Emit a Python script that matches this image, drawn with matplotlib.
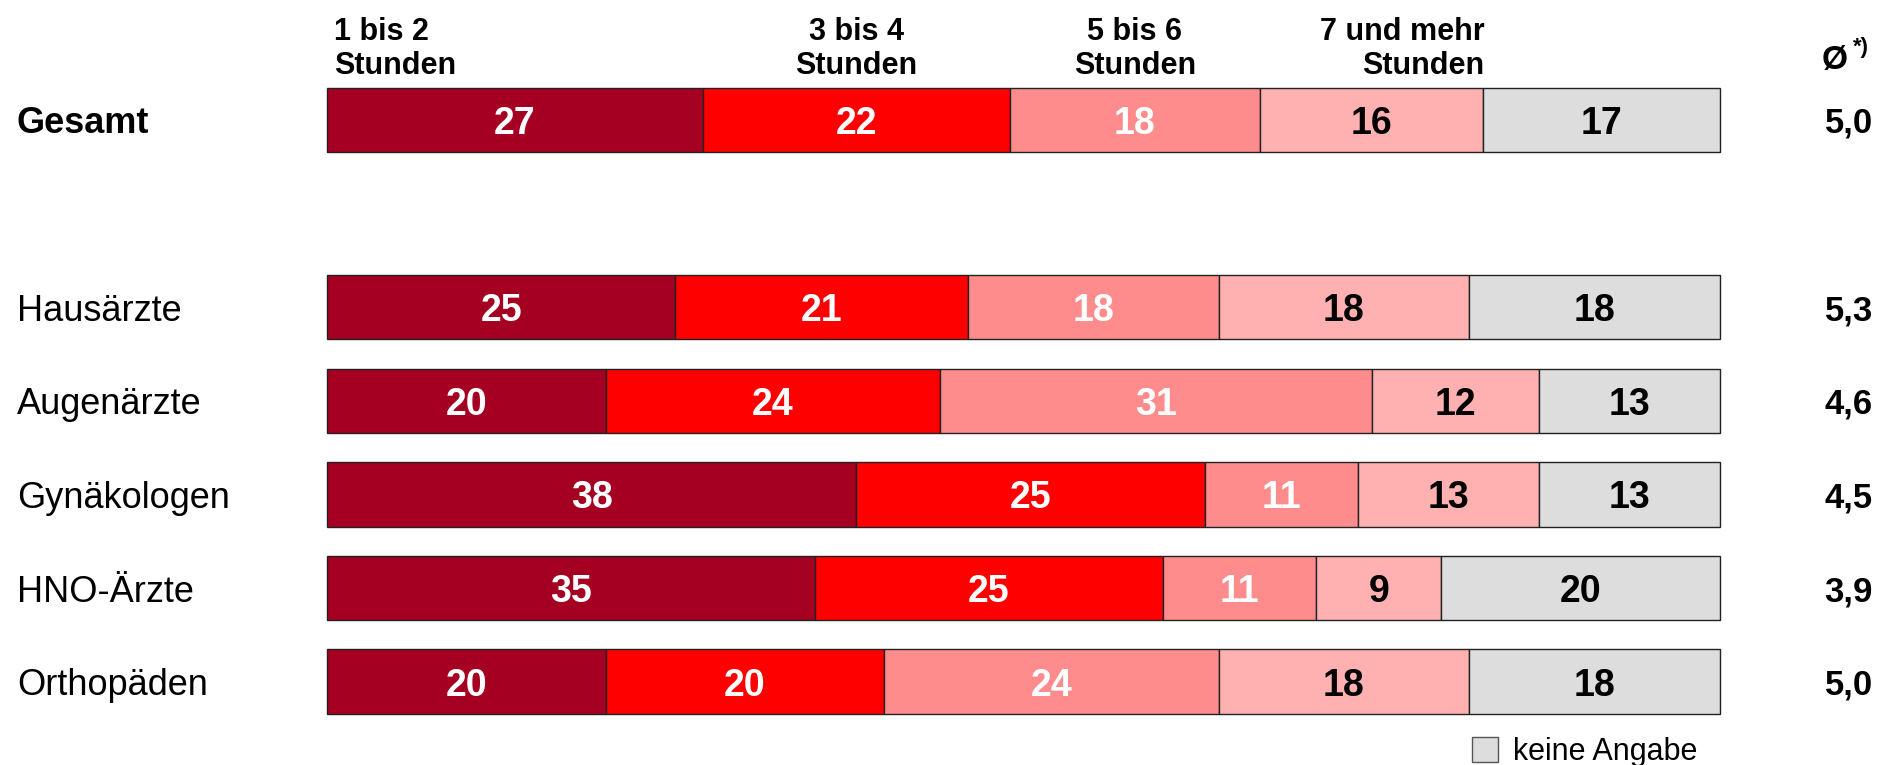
import numpy as np
import matplotlib.pyplot as plt
from matplotlib.patches import Patch
from matplotlib.transforms import blended_transform_factory

plt.rcParams['font.family'] = ['Liberation Sans', 'DejaVu Sans']

groups = ['Gesamt', 'Hausärzte', 'Augenärzte', 'Gynäkologen', 'HNO-Ärzte', 'Orthopäden']
rows = [0, 2, 3, 4, 5, 6]
categories = ['1 bis 2\nStunden', '3 bis 4\nStunden', '5 bis 6\nStunden',
              '7 und mehr\nStunden', 'keine Angabe']
shares = np.array([
    [27, 22, 18, 16, 17],
    [25, 21, 18, 18, 18],
    [20, 24, 31, 12, 13],
    [38, 25, 11, 13, 13],
    [35, 25, 11, 9, 20],
    [20, 20, 24, 18, 18],
])
averages = ['5,0', '5,3', '4,6', '4,5', '3,9', '5,0']

colors = ['#A50021', '#FF0000', '#FF8C8C', '#FFB0B0', '#DDDDDD']
text_colors = ['white', 'white', 'white', 'black', 'black']

W, H = 1883, 765
fig = plt.figure(figsize=(W / 100, H / 100), dpi=100)
ax = fig.add_axes([327 / W, 0, 1393 / W, 1])
ax.set_xlim(0, 100)
ax.set_ylim(6.891, -1.282)
ax.axis('off')

bar_h = 0.69
left = np.zeros(len(groups))
for j, cat in enumerate(categories):
    vals = shares[:, j]
    bars = ax.barh(rows, vals, left=left, height=bar_h, color=colors[j],
                   edgecolor='#222222', linewidth=1)
    for b in bars:
        b.set_clip_on(False)
    for r, v, l in zip(rows, vals, left):
        ax.text(l + v / 2, r, str(v), ha='center', va='center_baseline',
                fontsize=27, fontweight='bold', color=text_colors[j])
    left += vals

# row labels and averages
row_tf = blended_transform_factory(fig.transFigure, ax.transData)
for g, r, a in zip(groups, rows, averages):
    ax.text(17 / W, r, g, transform=row_tf, ha='left', va='center_baseline',
            fontsize=26, fontweight='bold' if g == 'Gesamt' else 'normal')
    ax.text(1873 / W, r, a, transform=row_tf, ha='right', va='center_baseline',
            fontsize=25, fontweight='bold')

# category headers above the overall bar
cum = np.concatenate([[0], np.cumsum(shares[0])])
head_y = -0.49
hkw = dict(va='baseline', fontsize=22, fontweight='bold', linespacing=1.2)
ax.text(cum[0] + 0.5, head_y, categories[0], ha='left', multialignment='left', **hkw)
ax.text((cum[1] + cum[2]) / 2, head_y, categories[1], ha='center',
        multialignment='center', **hkw)
ax.text((cum[2] + cum[3]) / 2, head_y, categories[2], ha='center',
        multialignment='center', **hkw)
ax.text(cum[4] + 0.1, head_y, categories[3], ha='right', multialignment='right', **hkw)

# average column header
ax.text(1848 / W, -0.55, 'Ø', transform=row_tf, ha='right', va='baseline',
        fontsize=24, fontweight='bold')
ax.text(1853 / W, -0.72, '*)', transform=row_tf, ha='left', va='baseline',
        fontsize=16, fontweight='bold')

handles = [Patch(facecolor=colors[4], edgecolor='#555555', linewidth=1)]
fig.legend(handles, ['keine Angabe'], loc='center left',
           bbox_to_anchor=(1472 / W, 1 - 752 / H), frameon=False,
           fontsize=22, handlelength=0.85, handleheight=0.85, handletextpad=0.5,
           borderpad=0, borderaxespad=0)

fig.savefig('out.png', dpi=100)
